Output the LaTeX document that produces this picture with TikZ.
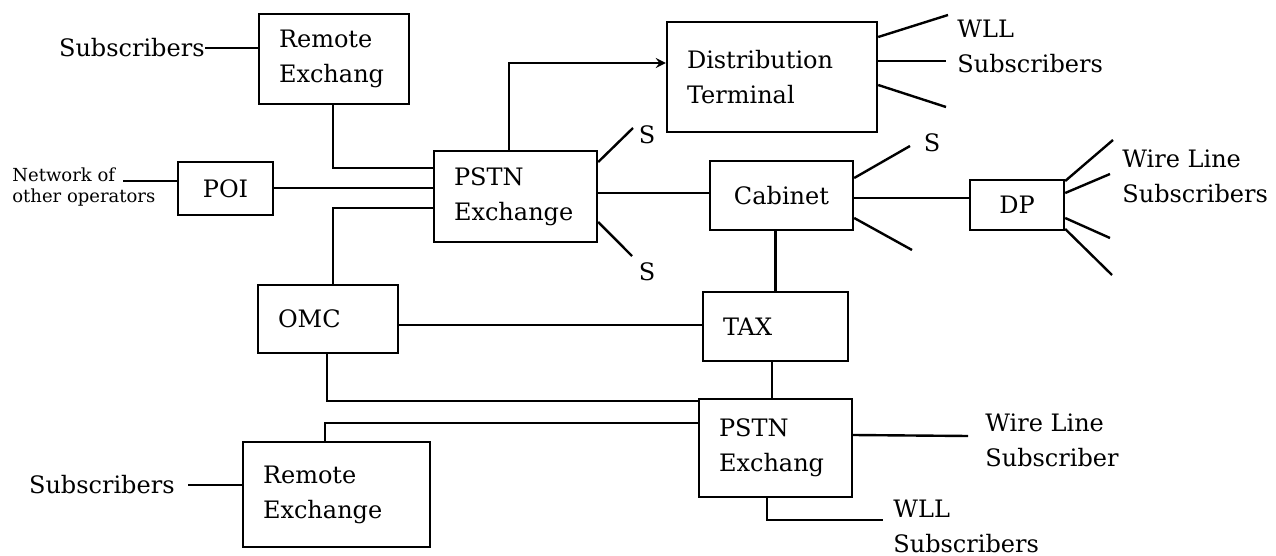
\documentclass[tikz,border=0pt]{standalone}
\usepackage{fontspec}
\setmainfont{DejaVu Serif}
\usepackage{tikz}

\tikzset{
    box/.style = {draw, rectangle, line width = 1.2pt, inner xsep = 10pt, inner ysep = 0pt, align = left},
    lbl/.style = {inner sep = 0pt, align = left},
    wire/.style = {line width = 1.2pt}
}

\begin{document}
\begin{tikzpicture}[x = 0.5pt, y = -0.5pt, font = \fontsize{12}{17.5}\selectfont]
        \useasboundingbox (0, 0) rectangle (1276, 556);

        % Nodes
        \node [box, text width = 55pt, minimum height = 45pt] (rex1) at (334, 59) {Remote\\Exchang};
        \node [box, text width = 27.5pt, minimum height = 26.5pt, align = center] (poi) at (225.5, 188.5) {POI};
        \node [box, text width = 61.5pt, minimum height = 45.5pt] (pstn1) at (515.5, 196.5) {PSTN\\Exchange};
        \node [box, text width = 85pt, minimum height = 55pt] (dt) at (772, 77) {Distribution\\Terminal};
        \node [box, text width = 51.5pt, minimum height = 34.5pt, align = center] (cab) at (781.5, 195.5) {Cabinet};
        \node [box, text width = 27pt, minimum height = 25pt, align = center] (dp) at (1017, 205) {DP};
        \node [box, text width = 50pt, minimum height = 34pt] (omc) at (328, 319) {OMC};
        \node [box, text width = 52.5pt, minimum height = 34.5pt] (tax) at (775.5, 326.5) {TAX};
        \node [box, text width = 56.5pt, minimum height = 49pt] (pstn2) at (775.5, 448) {PSTN\\Exchang};
        \node [box, text width = 73.5pt, minimum height = 52.5pt] (rex2) at (336.5, 494.5) {Remote\\Exchange};

        % Outside labels
        \node [lbl, anchor = east] (sub1) at (205, 48) {Subscribers};
        \node [lbl, anchor = west, font = \fontsize{9}{10.5}\selectfont] (net) at (12, 187) {Network of\\other operators};
        \node [lbl, anchor = east, inner xsep = 6.5pt] (sub2) at (188, 485) {Subscribers};
        \node [lbl] (s1) at (647, 135) {S};
        \node [lbl] (s2) at (647, 272) {S};
        \node [lbl] (s3) at (932, 143) {S};
        \node [lbl, anchor = west] (wll1) at (957, 46) {WLL\\Subscribers};
        \node [lbl, anchor = west] (wl1) at (1122, 176) {Wire Line\\Subscribers};
        \node [lbl, anchor = west] (wl2) at (985, 440) {Wire Line\\Subscriber};
        \node [lbl, anchor = west] (wll2) at (893, 526) {WLL\\Subscribers};

        % Free line ends
        \coordinate (netend) at (123, 181);
        \coordinate (s1end) at (633, 128);
        \coordinate (s2end) at (632, 256);
        \coordinate (wllA) at (948, 15);
        \coordinate (wllB) at (946, 61);
        \coordinate (wllC) at (946, 107);
        \coordinate (cabA) at (910, 146);
        \coordinate (cabC) at (912, 250);
        \coordinate (dpA) at (1113, 140);
        \coordinate (dpB) at (1110, 174);
        \coordinate (dpC) at (1110, 238);
        \coordinate (dpD) at (1112, 275);
        \coordinate (wlend) at (968, 436);
        \coordinate (wllend) at (883, 520);

        % Draw the links
        \draw [wire] (sub1.east) -- (sub1.east -| rex1.west);
        \draw [wire] (netend) -- (netend -| poi.west);
        \draw [wire] (rex1.south -| 333, 0) |- (pstn1.west |- 0, 168);
        \draw [wire] (poi.east |- 0, 188) -- (pstn1.west |- 0, 188);
        \draw [wire] (pstn1.west |- 0, 208) -| (omc.north -| 333, 0);
        \draw [wire, ->, > = stealth] (pstn1.north -| 509, 0) |- (dt.west |- 0, 63);
        \draw [wire] (pstn1.east |- 0, 193) -- (cab.west |- 0, 193);
        \draw [wire] (pstn1.east |- 0, 162) -- (s1end);
        \draw [wire] (pstn1.east |- 0, 222) -- (s2end);

        \draw [wire] (dt.east |- 0, 37) -- (wllA);
        \draw [wire] (dt.east |- 0, 61) -- (wllB);
        \draw [wire] (dt.east |- 0, 85) -- (wllC);

        \draw [wire] (cab.east |- 0, 178) -- (cabA);
        \draw [wire] (cab.east |- 0, 198) -- (dp.west |- 0, 198);
        \draw [wire] (cab.east |- 0, 218) -- (cabC);

        \draw [wire] (dp.east |- 0, 181) -- (dpA);
        \draw [wire] (dp.east |- 0, 193) -- (dpB);
        \draw [wire] (dp.east |- 0, 218) -- (dpC);
        \draw [wire] (dp.east |- 0, 229) -- (dpD);

        \draw [wire] (cab.south -| tax.north) -- (tax.north);
        \draw [wire] (omc.east |- 0, 325) -- (tax.west |- 0, 325);
        \draw [wire] (tax.south -| 772, 0) -- (pstn2.north -| 772, 0);
        \draw [wire] (omc.south -| 327, 0) |- (pstn2.west |- 0, 401);
        \draw [wire] (rex2.north -| 325, 0) |- (pstn2.west |- 0, 423);
        \draw [wire] (sub2.east) -- (sub2.east -| rex2.west);
        \draw [wire] (pstn2.east |- 0, 435) -- (wlend);
        \draw [wire] (pstn2.south -| 767, 0) |- (wllend);

    \end{tikzpicture}
\end{document}
